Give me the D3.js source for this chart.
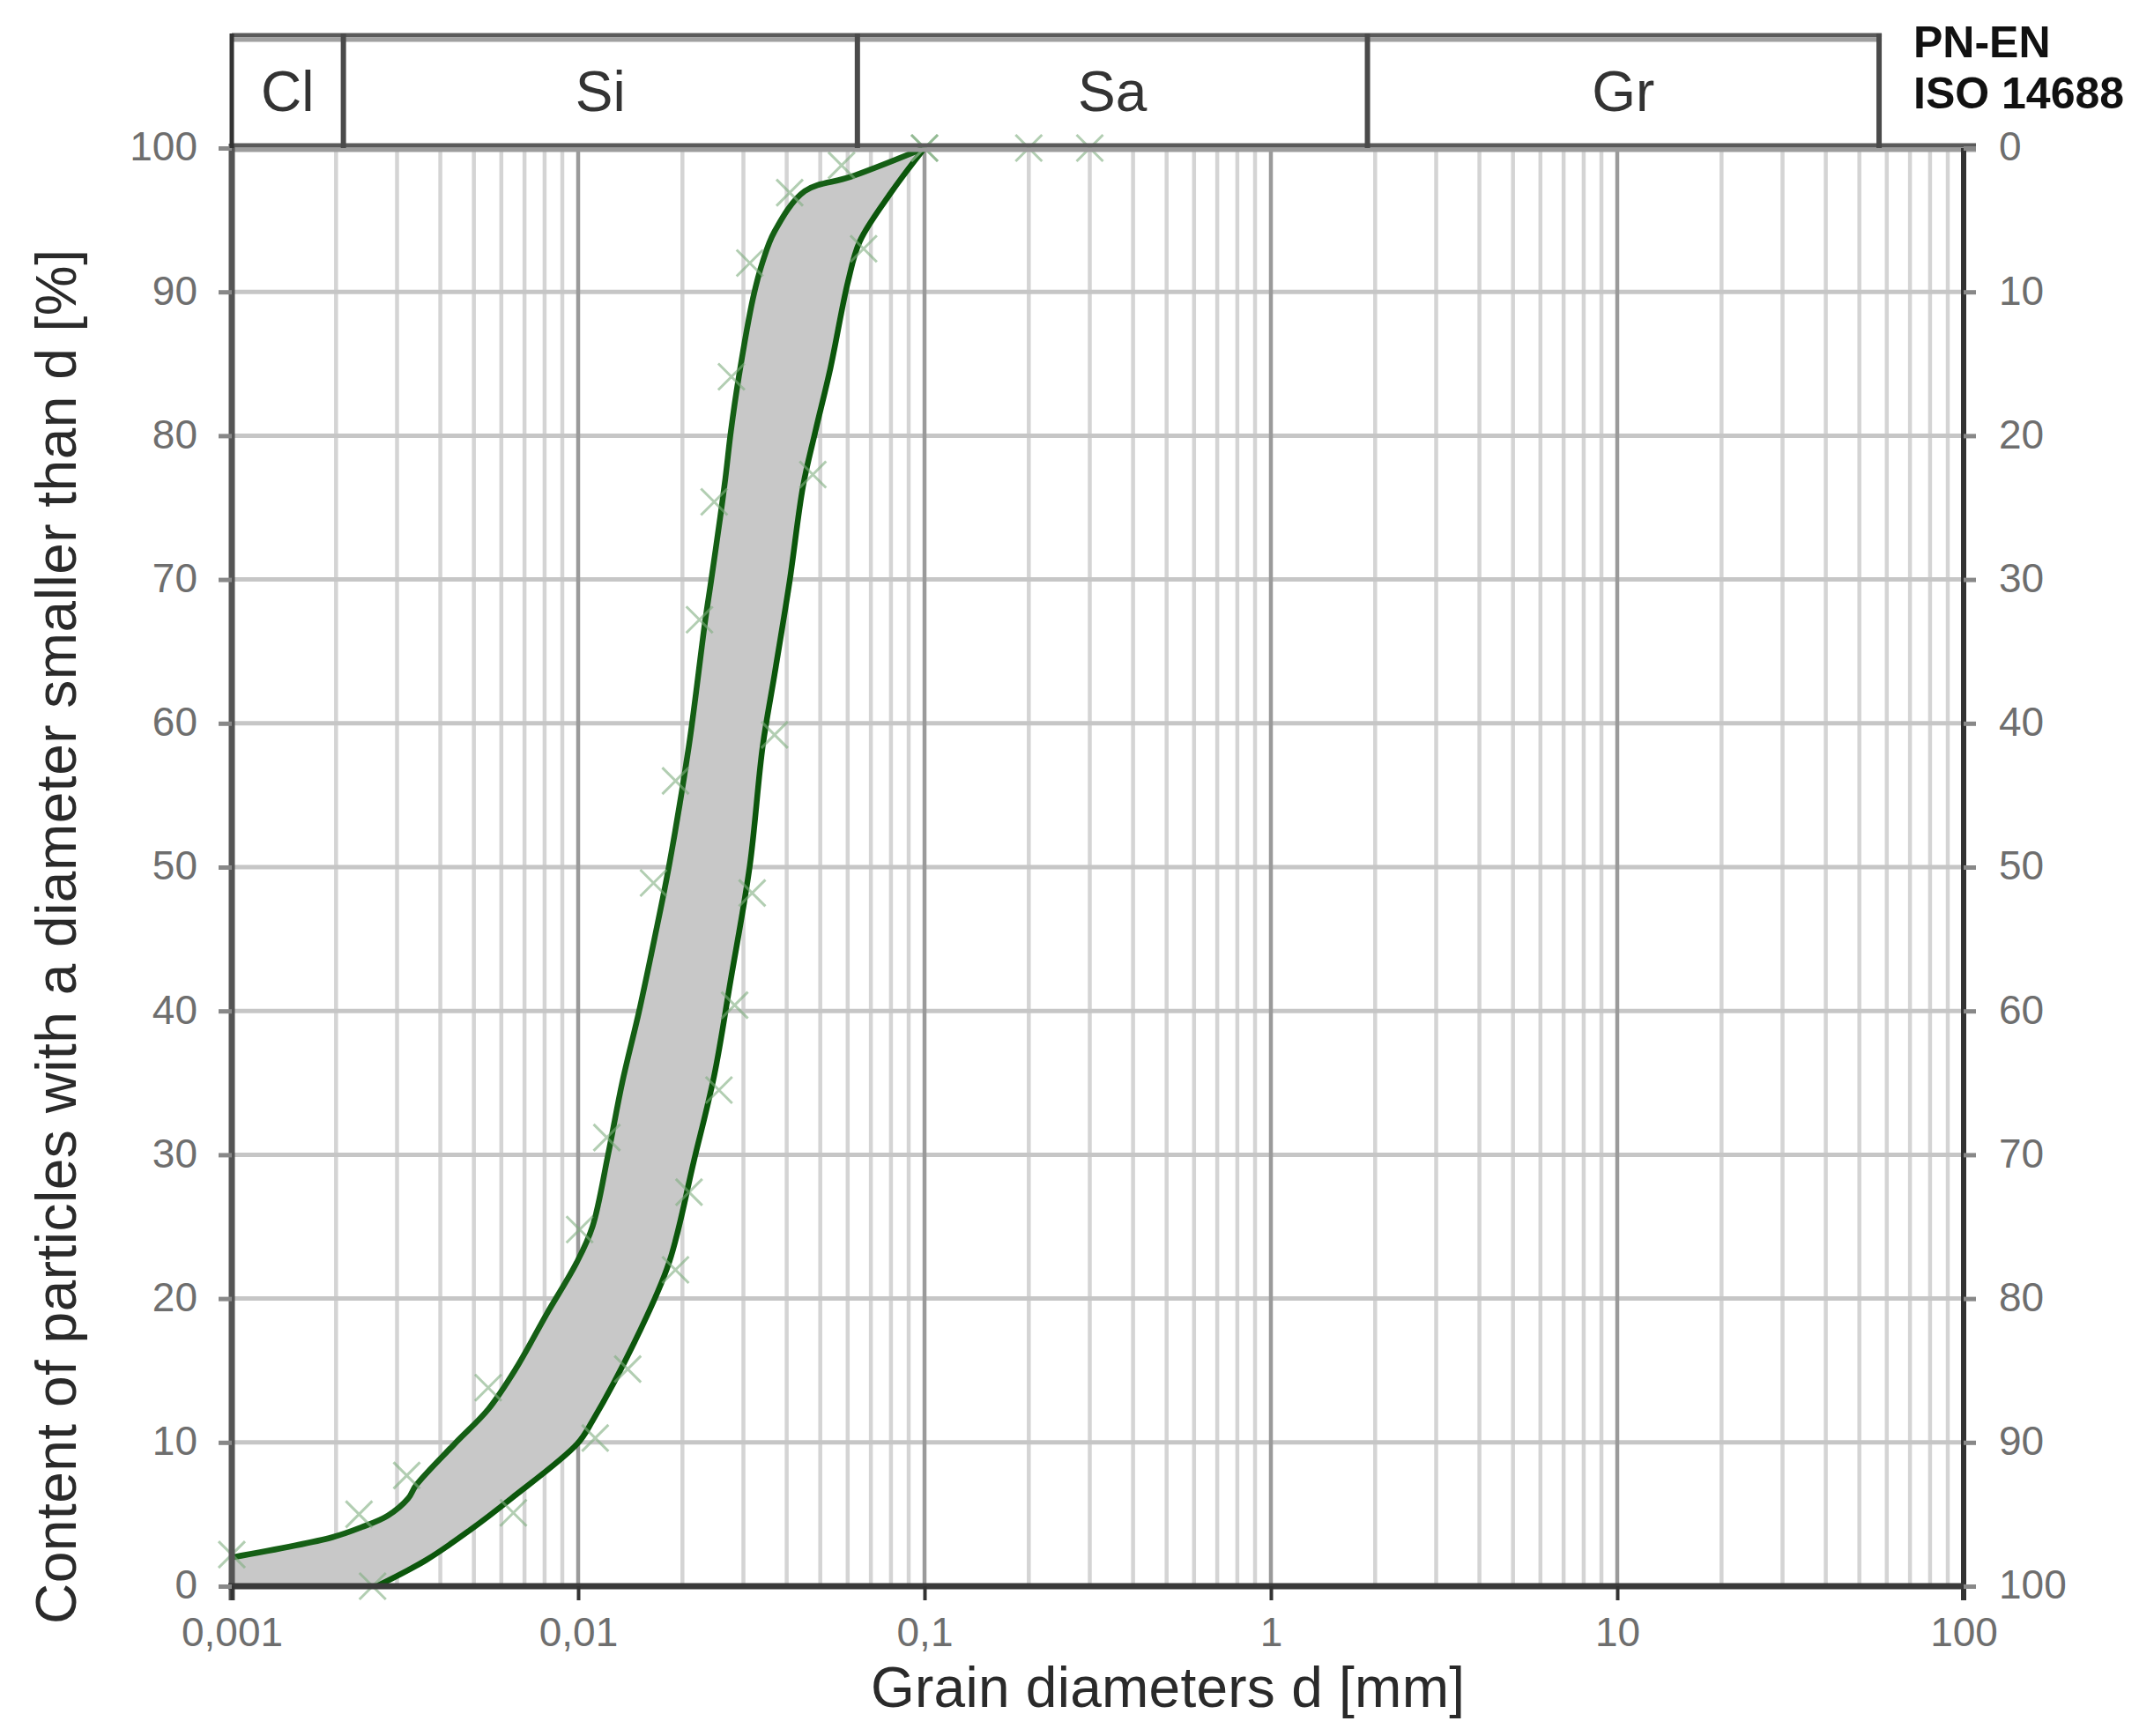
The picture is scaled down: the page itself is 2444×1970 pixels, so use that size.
<!DOCTYPE html>
<html>
<head>
<meta charset="utf-8">
<script src="https://cdn.jsdelivr.net/npm/d3@7"></script>
<style>
  html, body { margin: 0; padding: 0; background: #fff; }
  svg { display: block; }
  text { font-family: "Liberation Sans", Arial, sans-serif; }
</style>
</head>
<body>
<script>
// ---------------- DATA ----------------
// Upper (finer) limit curve: grain diameter [mm] and passing [%]
const upperD = [0.001, 0.00195, 0.00237, 0.00282, 0.00323, 0.0034, 0.0044, 0.0055, 0.0066, 0.0081, 0.0099, 0.0110, 0.0122, 0.0134, 0.0150, 0.0166, 0.0183, 0.0209, 0.0232, 0.0242, 0.0257, 0.0266, 0.0276, 0.0291, 0.0320, 0.0341, 0.0369, 0.0451, 0.0612, 0.1];
const upperP = [2.0, 3.4, 4.1, 4.9, 6.1, 7.0, 9.9, 12.3, 15.1, 18.9, 22.5, 25.0, 30.0, 35.0, 40.0, 45.0, 50.1, 58.5, 66.9, 69.9, 74.3, 77.0, 80.3, 84.1, 89.6, 92.1, 94.2, 97.0, 98.0, 100];

// Lower (coarser) limit curve
const lowerD = [0.00262, 0.00363, 0.00487, 0.00641, 0.00994, 0.0110, 0.0149, 0.0183, 0.0216, 0.0247, 0.0275, 0.0313, 0.0341, 0.0369, 0.0408, 0.0446, 0.0484, 0.0535, 0.0601, 0.0650, 0.080, 0.1];
const lowerP = [0, 1.8, 3.9, 6.1, 9.9, 11.5, 17.5, 22.5, 29.6, 35.5, 42.0, 50.1, 58.4, 63.4, 69.9, 76.5, 80.3, 84.7, 90.7, 93.5, 96.9, 100];

// Measured points (x markers)
const upperMarkD = [0.001, 0.00233, 0.0032, 0.0055, 0.0101, 0.0121, 0.0165, 0.0191, 0.0224, 0.0247, 0.0277, 0.0313, 0.0408, 0.0576, 0.1, 0.2, 0.3];
const upperMarkP = [2.2, 5.0, 7.7, 13.8, 24.8, 31.2, 48.9, 56.0, 67.2, 75.4, 84.1, 92.0, 96.9, 98.8, 100, 100, 100];
const lowerMarkD = [0.00255, 0.0065, 0.0112, 0.0139, 0.0191, 0.0209, 0.0255, 0.0283, 0.0318, 0.0369, 0.0476, 0.0667, 0.1];
const lowerMarkP = [0, 5.1, 10.3, 15.1, 22.0, 27.4, 34.5, 40.4, 48.2, 59.2, 77.3, 93.0, 100];

// Soil fraction header (PN-EN ISO 14688)
const fractionNames = ["Cl", "Si", "Sa", "Gr"];
const fractionBounds = [0.001, 0.0021, 0.064, 1.9, 57];

// Axis ticks
const xTickValues = [0.001, 0.01, 0.1, 1, 10, 100];
const xTickLabels = ["0,001", "0,01", "0,1", "1", "10", "100"];
const yTickValues = [0, 10, 20, 30, 40, 50, 60, 70, 80, 90, 100];
const yRightLabels = ["100", "90", "80", "70", "60", "50", "40", "30", "20", "10", "0"];

const xTitle = "Grain diameters d [mm]";
const yTitle = "Content of particles with a diameter smaller than d [%]";
const standardLines = ["PN-EN", "ISO 14688"];

// ---------------- LAYOUT ----------------
const W = 2444, H = 1970;
const L = 263, R = 2228, T = 168, B = 1800, HT = 42;

const svg = d3.select("body").append("svg").attr("width", W).attr("height", H);
svg.append("rect").attr("width", W).attr("height", H).attr("fill", "#fff");

const x = d3.scaleLog().domain([0.001, 100]).range([L, R]);
const y = d3.scaleLinear().domain([0, 100]).range([B, T]);

// ---- grid ----
const minor = [];
for (let e = -3; e <= 1; e++) for (let k = 2; k <= 9; k++) minor.push(k * Math.pow(10, e));
svg.append("g").selectAll("line").data(minor).join("line")
  .attr("x1", d => x(d)).attr("x2", d => x(d)).attr("y1", T).attr("y2", B)
  .attr("stroke", "#d4d4d4").attr("stroke-width", 4.5);
svg.append("g").selectAll("line").data(yTickValues).join("line")
  .attr("x1", L).attr("x2", R).attr("y1", d => y(d)).attr("y2", d => y(d))
  .attr("stroke", "#c6c6c6").attr("stroke-width", 5);
svg.append("g").selectAll("line").data(xTickValues.slice(1, -1)).join("line")
  .attr("x1", d => x(d)).attr("x2", d => x(d)).attr("y1", T).attr("y2", B)
  .attr("stroke", "#9a9a9a").attr("stroke-width", 4.5);

// ---- band ----
const up = upperD.map((d, i) => [x(d), y(upperP[i])]);
const lo = lowerD.map((d, i) => [x(d), y(lowerP[i])]);
const lineGen = d3.line().curve(d3.curveCatmullRom.alpha(0.5));
const upPath = lineGen(up);
const loRevPath = lineGen(lo.slice().reverse());
const bandPath = upPath + "L" + loRevPath.slice(1) + "L" + x(0.001) + "," + y(0) + "Z";
svg.append("path").attr("d", bandPath).attr("fill", "#c8c8c8").attr("stroke", "none");

// ---- curves ----
svg.append("path").attr("d", upPath).attr("fill", "none")
  .attr("stroke", "#155f15").attr("stroke-width", 6.5).attr("stroke-linejoin", "round");
svg.append("path").attr("d", lineGen(lo)).attr("fill", "none")
  .attr("stroke", "#0b560b").attr("stroke-width", 6.5).attr("stroke-linejoin", "round");

// ---- markers ----
const marks = upperMarkD.map((d, i) => [d, upperMarkP[i]])
  .concat(lowerMarkD.map((d, i) => [d, lowerMarkP[i]]));
const s = 15;
svg.append("g").selectAll("path").data(marks).join("path")
  .attr("transform", d => `translate(${x(d[0])},${y(d[1])})`)
  .attr("d", `M${-s},${-s}L${s},${s}M${-s},${s}L${s},${-s}`)
  .attr("stroke", "#7fae7f").attr("stroke-opacity", 0.6).attr("stroke-width", 3).attr("fill", "none");

// ---- frame ----
svg.append("line").attr("x1", L).attr("x2", R + 14).attr("y1", T - 3).attr("y2", T - 3)
  .attr("stroke", "#5a5a5a").attr("stroke-width", 5);
svg.append("line").attr("x1", L).attr("x2", R + 14).attr("y1", T + 2).attr("y2", T + 2)
  .attr("stroke", "#9c9c9c").attr("stroke-width", 5);
svg.append("line").attr("x1", L).attr("x2", L).attr("y1", T - 5).attr("y2", B + 16)
  .attr("stroke", "#555").attr("stroke-width", 7);
svg.append("line").attr("x1", R).attr("x2", R).attr("y1", T).attr("y2", B + 16)
  .attr("stroke", "#333").attr("stroke-width", 6);
svg.append("line").attr("x1", L - 4).attr("x2", R + 3).attr("y1", B).attr("y2", B)
  .attr("stroke", "#3a3a3a").attr("stroke-width", 7);

// ---- axes ----
const xAxis = d3.axisBottom(x).tickValues(xTickValues)
  .tickFormat((d, i) => xTickLabels[i]).tickSize(16).tickPadding(19);
const gx = svg.append("g").attr("transform", `translate(0,${B})`).call(xAxis);
gx.select(".domain").remove();
gx.selectAll(".tick line").attr("stroke", "#333").attr("stroke-width", 4);
gx.selectAll(".tick text").attr("font-size", 46).attr("fill", "#6e6e6e")
  .attr("font-family", "'Liberation Sans', Arial, sans-serif");

const yAxisL = d3.axisLeft(y).tickValues(yTickValues).tickSize(15).tickPadding(24);
const gyl = svg.append("g").attr("transform", `translate(${L},0)`).call(yAxisL);
gyl.select(".domain").remove();
gyl.selectAll(".tick line").attr("stroke", "#888").attr("stroke-width", 5);
gyl.selectAll(".tick text").attr("font-size", 46).attr("fill", "#6e6e6e")
  .attr("font-family", "'Liberation Sans', Arial, sans-serif").attr("dy", "0.30em");

const yAxisR = d3.axisRight(y).tickValues(yTickValues)
  .tickFormat((d, i) => yRightLabels[i]).tickSize(14).tickPadding(26);
const gyr = svg.append("g").attr("transform", `translate(${R},0)`).call(yAxisR);
gyr.select(".domain").remove();
gyr.selectAll(".tick line").attr("stroke", "#888").attr("stroke-width", 5);
gyr.selectAll(".tick text").attr("font-size", 46).attr("fill", "#6e6e6e")
  .attr("font-family", "'Liberation Sans', Arial, sans-serif").attr("dy", "0.30em");

// ---- header ----
const hx0 = x(fractionBounds[0]), hx1 = x(fractionBounds[fractionBounds.length - 1]);
svg.append("line").attr("x1", hx0).attr("x2", hx1 + 3).attr("y1", HT - 2).attr("y2", HT - 2)
  .attr("stroke", "#5a5a5a").attr("stroke-width", 5);
svg.append("line").attr("x1", hx0).attr("x2", hx1 + 3).attr("y1", HT + 3).attr("y2", HT + 3)
  .attr("stroke", "#a0a0a0").attr("stroke-width", 5);
svg.append("g").selectAll("line").data(fractionBounds).join("line")
  .attr("x1", d => x(d)).attr("x2", d => x(d)).attr("y1", HT - 4).attr("y2", T)
  .attr("stroke", (d, i) => i === 0 ? "#333" : "#4a4a4a").attr("stroke-width", (d, i) => i === 0 ? 5 : 6);
svg.append("g").selectAll("text").data(fractionNames).join("text")
  .attr("x", (d, i) => (x(fractionBounds[i]) + x(fractionBounds[i + 1])) / 2)
  .attr("y", 126).attr("text-anchor", "middle").attr("font-size", 64).attr("fill", "#333")
  .text(d => d);
svg.append("g").selectAll("text").data(standardLines).join("text")
  .attr("x", 2171).attr("y", (d, i) => 65 + i * 58)
  .attr("font-size", 50).attr("font-weight", "bold").attr("fill", "#111")
  .text(d => d);

// ---- titles ----
svg.append("text").attr("x", 1325).attr("y", 1937).attr("text-anchor", "middle")
  .attr("font-size", 64).attr("fill", "#2a2a2a")
  .attr("textLength", 674).attr("lengthAdjust", "spacing").text(xTitle);
svg.append("text").attr("transform", "translate(86,1063) rotate(-90)").attr("text-anchor", "middle")
  .attr("font-size", 64).attr("fill", "#2a2a2a")
  .attr("textLength", 1560).attr("lengthAdjust", "spacing").text(yTitle);
</script>
</body>
</html>
